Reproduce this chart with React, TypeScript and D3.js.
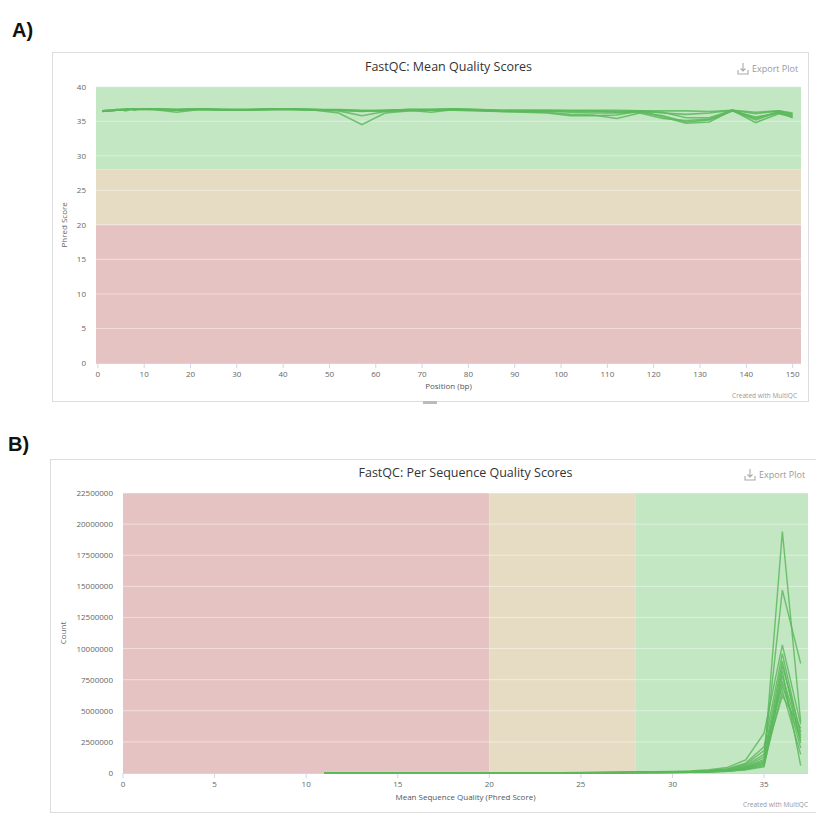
import React from "react";
import * as d3 from "d3";

// ---------- Panel A data: FastQC mean quality per base position ----------
const positions = [1,2,3,4,5,6,7,8,9,12,17,22,27,32,37,42,47,52,57,62,67,72,77,82,87,92,97,102,107,112,117,122,127,132,137,142,147,150];
const meanQ1 = [36.5,36.5,36.6,36.6,36.7,36.7,36.8,36.8,36.8,36.8,36.7,36.8,36.7,36.7,36.8,36.8,36.7,36.6,36.4,36.6,36.7,36.7,36.8,36.7,36.6,36.6,36.6,36.6,36.6,36.6,36.5,36.5,36.5,36.4,36.6,36.3,36.5,36.2];
const meanQ2 = [36.4,36.5,36.5,36.6,36.6,36.7,36.7,36.7,36.7,36.7,36.6,36.7,36.6,36.6,36.7,36.7,36.6,36.2,34.5,36.2,36.5,36.6,36.7,36.6,36.5,36.4,36.5,36.3,36.2,36.2,36.3,35.8,34.9,35.2,36.5,35.6,36.2,35.8];
const meanQ3 = [36.5,36.6,36.6,36.7,36.7,36.5,36.7,36.7,36.8,36.7,36.3,36.7,36.7,36.6,36.7,36.7,36.6,36.5,35.8,36.4,36.6,36.3,36.7,36.6,36.4,36.3,36.2,35.8,35.8,35.9,36.5,35.6,34.7,34.9,36.6,34.8,36.1,35.6];
const meanQ4 = [36.5,36.5,36.6,36.6,36.7,36.8,36.8,36.6,36.8,36.8,36.7,36.8,36.7,36.7,36.7,36.8,36.7,36.7,36.6,36.6,36.7,36.7,36.7,36.6,36.5,36.6,36.5,36.5,36.5,36.3,36.4,36.3,35.5,35.5,36.6,35.4,36.4,35.9];
const meanQ5 = [36.4,36.5,36.5,36.6,36.6,36.7,36.7,36.7,36.7,36.7,36.6,36.7,36.6,36.6,36.7,36.7,36.6,36.6,36.5,36.5,36.6,36.6,36.6,36.5,36.4,36.4,36.3,36.0,35.9,35.4,36.2,35.4,35.1,35.3,36.5,35.2,36.3,35.5];
const meanQ6 = [36.5,36.6,36.6,36.7,36.7,36.7,36.8,36.8,36.8,36.8,36.7,36.8,36.7,36.7,36.8,36.8,36.7,36.6,36.5,36.5,36.7,36.7,36.8,36.7,36.6,36.5,36.6,36.5,36.4,36.4,36.5,36.2,36.0,36.2,36.6,36.1,36.5,36.0];
const meanSeriesA = [meanQ1, meanQ2, meanQ3, meanQ4, meanQ5, meanQ6];
const xTicksA = [0,10,20,30,40,50,60,70,80,90,100,110,120,130,140,150];
const yTicksA = [0,5,10,15,20,25,30,35,40];

// ---------- Panel B data: per sequence quality score counts (millions) ----------
const qualities = [11,12,13,14,15,16,17,18,19,20,21,22,23,24,25,26,27,28,29,30,31,32,33,34,35,36,37];
const cntS1 = [0.001,0.001,0.002,0.002,0.003,0.003,0.004,0.005,0.006,0.008,0.010,0.012,0.015,0.018,0.022,0.027,0.033,0.040,0.050,0.060,0.080,0.120,0.180,0.350,0.90,19.4,4.1];
const cntS2 = [0.001,0.002,0.002,0.003,0.003,0.004,0.005,0.006,0.007,0.009,0.011,0.014,0.017,0.021,0.026,0.032,0.040,0.050,0.062,0.080,0.110,0.160,0.250,0.520,1.30,14.7,8.8];
const cntS3 = [0.002,0.002,0.003,0.004,0.005,0.006,0.007,0.009,0.011,0.014,0.017,0.021,0.026,0.032,0.040,0.050,0.062,0.078,0.098,0.120,0.170,0.260,0.450,1.050,3.20,10.3,3.9];
const cntS4 = [0.001,0.002,0.002,0.003,0.004,0.005,0.006,0.007,0.009,0.011,0.014,0.017,0.021,0.026,0.032,0.040,0.050,0.062,0.078,0.095,0.130,0.200,0.340,0.800,2.10,9.6,3.0];
const cntS5 = [0.001,0.001,0.002,0.002,0.003,0.004,0.005,0.006,0.007,0.009,0.011,0.013,0.016,0.020,0.025,0.031,0.038,0.047,0.058,0.072,0.100,0.150,0.260,0.600,1.50,9.0,2.4];
const cntS6 = [0.001,0.001,0.001,0.002,0.002,0.003,0.003,0.004,0.005,0.006,0.008,0.010,0.012,0.015,0.019,0.024,0.030,0.037,0.046,0.058,0.080,0.120,0.200,0.420,1.00,8.6,3.3];
const cntS7 = [0.000,0.001,0.001,0.001,0.002,0.002,0.003,0.003,0.004,0.005,0.006,0.008,0.010,0.012,0.015,0.019,0.024,0.030,0.037,0.046,0.064,0.095,0.150,0.280,0.60,8.2,0.6];
const cntS8 = [0.001,0.001,0.001,0.002,0.002,0.003,0.003,0.004,0.005,0.006,0.008,0.010,0.012,0.015,0.018,0.023,0.029,0.036,0.045,0.056,0.075,0.110,0.180,0.360,0.80,7.8,2.8];
const cntS9 = [0.000,0.001,0.001,0.001,0.001,0.002,0.002,0.003,0.003,0.004,0.005,0.007,0.009,0.011,0.014,0.017,0.022,0.027,0.034,0.042,0.058,0.085,0.130,0.250,0.50,7.4,2.0];
const cntS10 = [0.001,0.001,0.002,0.002,0.003,0.004,0.005,0.006,0.008,0.010,0.012,0.015,0.019,0.023,0.029,0.036,0.045,0.056,0.070,0.088,0.120,0.180,0.300,0.700,1.80,7.0,2.6];
const cntS11 = [0.000,0.001,0.001,0.001,0.002,0.002,0.002,0.003,0.004,0.005,0.006,0.008,0.010,0.012,0.015,0.019,0.024,0.030,0.037,0.046,0.062,0.090,0.140,0.300,0.70,6.6,1.5];
const cntS12 = [0.001,0.001,0.001,0.002,0.002,0.003,0.004,0.005,0.006,0.007,0.009,0.011,0.014,0.017,0.021,0.026,0.032,0.040,0.050,0.062,0.085,0.125,0.210,0.450,1.10,6.2,3.6];
const countSeriesB = [cntS1,cntS2,cntS3,cntS4,cntS5,cntS6,cntS7,cntS8,cntS9,cntS10,cntS11,cntS12];
const xTicksB = [0,5,10,15,20,25,30,35];
const yTicksB = [0,2500000,5000000,7500000,10000000,12500000,15000000,17500000,20000000,22500000];

// bands
const bandsA = [
  { from: 28, to: 40, color: "#c3e6c3" },
  { from: 20, to: 28, color: "#e6dcc3" },
  { from: 0, to: 20, color: "#e6c3c3" },
];
const bandsB = [
  { from: 0, to: 20, color: "#e6c3c3" },
  { from: 20, to: 28, color: "#e6dcc3" },
  { from: 28, to: 37.4, color: "#c3e6c3" },
];

const FONT = "'Open Sans', 'DejaVu Sans', sans-serif";
const LINE = "#5cb85c";

function ExportBtn({ x, y }: { x: number; y: number }) {
  return (
    <g transform={`translate(${x},${y})`} fill="none" stroke="#aaa" strokeWidth={1.1}>
      <path d="M0,4 L0,8 L10,8 L10,4" />
      <path d="M5,-3 L5,5 M2.5,2.5 L5,5 L7.5,2.5" />
      <text x={14} y={6} fill="#999" stroke="none" fontSize={9} fontFamily={FONT}>Export Plot</text>
    </g>
  );
}

function PanelA() {
  const L = 96, R = 801, T = 86.7, B = 363;
  const x = d3.scaleLinear().domain([-0.4, 151.8]).range([L, R]);
  const y = d3.scaleLinear().domain([0, 40]).range([B, T]);
  const line = d3.line<number>().x((_, i) => x(positions[i])).y((d) => y(d));
  return (
    <g>
      <text x={12} y={37} fontFamily="'Liberation Sans', Arial, sans-serif" fontWeight="bold" fontSize={20} fill="#111">A)</text>
      <rect x={52.5} y={52.5} width={756} height={349} fill="#fff" stroke="#ddd" />
      <rect x={423} y={401} width={14} height={3} fill="#bbb" />
      <text x={(L + R) / 2} y={71} textAnchor="middle" fontFamily={FONT} fontSize={12.5} fill="#333">FastQC: Mean Quality Scores</text>
      <ExportBtn x={738} y={66} />
      {bandsA.map((b, i) => (
        <rect key={i} x={L} width={R - L} y={y(b.to)} height={y(b.from) - y(b.to)} fill={b.color} />
      ))}
      {yTicksA.slice(1).map((t) => (
        <line key={t} x1={L} x2={R} y1={y(t)} y2={y(t)} stroke="#fff" strokeOpacity={0.45} />
      ))}
      <line x1={L} x2={R} y1={B + 0.5} y2={B + 0.5} stroke="#ccd6eb" />
      {xTicksA.map((t) => (
        <g key={t}>
          <line x1={x(t)} x2={x(t)} y1={B} y2={B + 5} stroke="#ccd6eb" />
          <text x={x(t)} y={377} textAnchor="middle" fontFamily={FONT} fontSize={8} fill="#666">{t}</text>
        </g>
      ))}
      {yTicksA.map((t) => (
        <text key={t} x={86} y={y(t) + 3} textAnchor="end" fontFamily={FONT} fontSize={8} fill="#666">{t}</text>
      ))}
      <text transform={`translate(67,${(T + B) / 2}) rotate(-90)`} textAnchor="middle" fontFamily={FONT} fontSize={8} fill="#666">Phred Score</text>
      <text x={(L + R) / 2} y={389} textAnchor="middle" fontFamily={FONT} fontSize={8} fill="#555">Position (bp)</text>
      <text x={797} y={398} textAnchor="end" fontFamily={FONT} fontSize={6.5} fill="#999">Created with MultiQC</text>
      {meanSeriesA.map((s, i) => (
        <path key={i} d={line(s) || ""} fill="none" stroke={LINE} strokeWidth={1.6} strokeOpacity={0.85} />
      ))}
    </g>
  );
}

function PanelB() {
  const L = 123, R = 808, T = 493, B = 773;
  const x = d3.scaleLinear().domain([0, 37.4]).range([L, R]);
  const y = d3.scaleLinear().domain([0, 22500000]).range([B, T]);
  const line = d3.line<number>().x((_, i) => x(qualities[i])).y((d) => y(d * 1e6));
  return (
    <g>
      <text x={8} y={451} fontFamily="'Liberation Sans', Arial, sans-serif" fontWeight="bold" fontSize={20} fill="#111">B)</text>
      <rect x={50.5} y={459.5} width={780} height={353} fill="#fff" stroke="#ddd" />
      <text x={(L + R) / 2} y={477} textAnchor="middle" fontFamily={FONT} fontSize={12.5} fill="#333">FastQC: Per Sequence Quality Scores</text>
      <ExportBtn x={745} y={472} />
      {bandsB.map((b, i) => (
        <rect key={i} y={T} height={B - T} x={x(b.from)} width={x(b.to) - x(b.from)} fill={b.color} />
      ))}
      {yTicksB.slice(1).map((t) => (
        <line key={t} x1={L} x2={R} y1={y(t)} y2={y(t)} stroke="#fff" strokeOpacity={0.45} />
      ))}
      <line x1={L} x2={R} y1={B + 0.5} y2={B + 0.5} stroke="#ccd6eb" />
      {xTicksB.map((t) => (
        <g key={t}>
          <line x1={x(t)} x2={x(t)} y1={B} y2={B + 5} stroke="#ccd6eb" />
          <text x={x(t)} y={787} textAnchor="middle" fontFamily={FONT} fontSize={8} fill="#666">{t}</text>
        </g>
      ))}
      {yTicksB.map((t) => (
        <text key={t} x={113} y={y(t) + 3} textAnchor="end" fontFamily={FONT} fontSize={8} fill="#666">{t}</text>
      ))}
      <text transform={`translate(66,${(T + B) / 2}) rotate(-90)`} textAnchor="middle" fontFamily={FONT} fontSize={8} fill="#666">Count</text>
      <text x={(L + R) / 2} y={800} textAnchor="middle" fontFamily={FONT} fontSize={8} fill="#555">Mean Sequence Quality (Phred Score)</text>
      <text x={808} y={807} textAnchor="end" fontFamily={FONT} fontSize={6.5} fill="#999">Created with MultiQC</text>
      {countSeriesB.map((s, i) => (
        <path key={i} d={line(s) || ""} fill="none" stroke={LINE} strokeWidth={1.4} strokeOpacity={0.85} />
      ))}
    </g>
  );
}

export default function App() {
  return (
    <svg width={816} height={819} style={{ position: "absolute", left: 0, top: 0, background: "#fff" }}>
      <rect width={816} height={819} fill="#fff" />
      <PanelA />
      <PanelB />
    </svg>
  );
}
